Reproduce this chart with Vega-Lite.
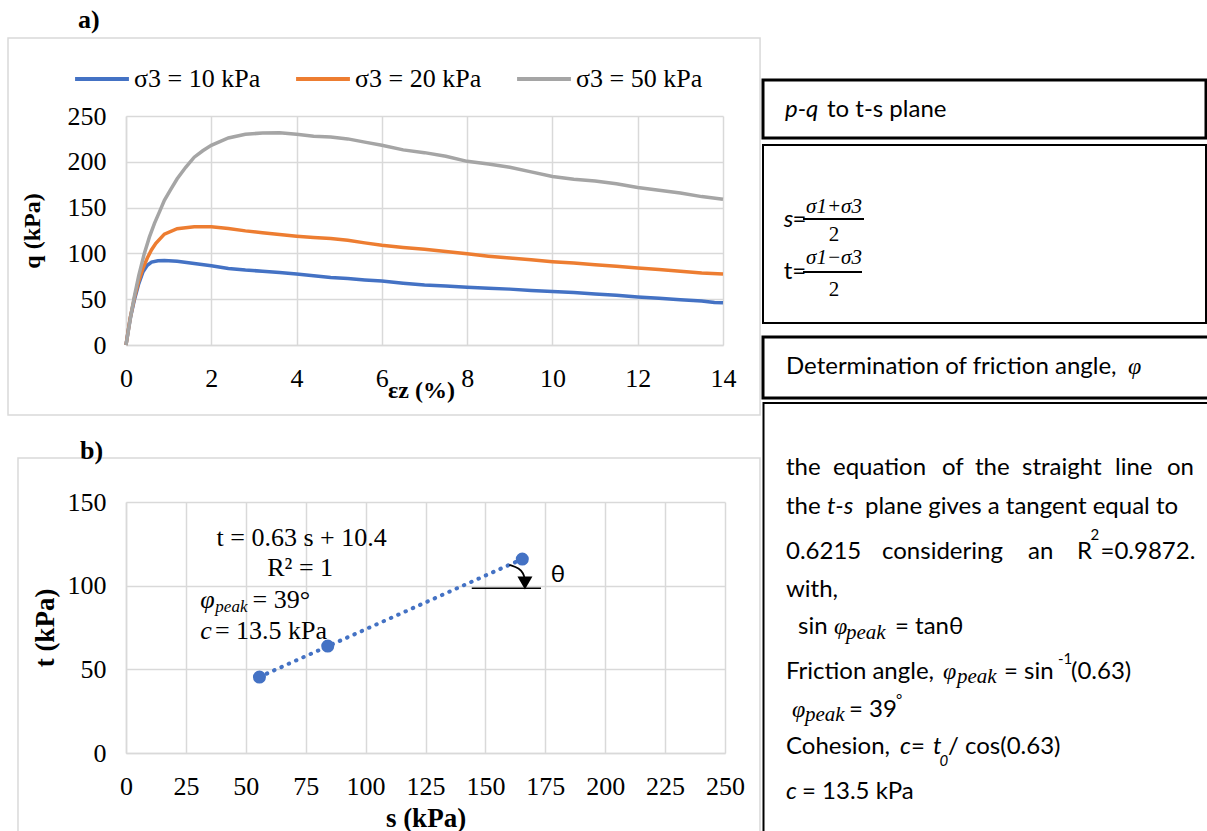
{
"$schema": "https://vega.github.io/schema/vega-lite/v6.json",
"padding": {"left": 7, "top": 7, "right": 0, "bottom": 0},
"config": {
  "view": {"stroke": null},
  "axis": {"gridColor": "#d9d9d9", "gridWidth": 1.5, "domainColor": "#d9d9d9", "domainWidth": 1.5, "ticks": false, "labelFont": "Liberation Serif", "labelFontSize": 26, "labelColor": "#000000", "labelPadding": 20, "labelFlush": false, "labelOverlap": false, "titleFont": "Liberation Serif", "titleFontWeight": "bold", "titleColor": "#000000"}
},
"resolve": {"scale": {"color": "independent"}, "legend": {"color": "independent"}},
"spacing": 0,
"hconcat": [
  {
    "spacing": 157,
    "bounds": "flush",
    "resolve": {"scale": {"color": "independent"}, "legend": {"color": "independent"}},
    "vconcat": [
      {
        "width": 597, "height": 229,
        "encoding": {
          "x": {"field": "e", "type": "quantitative", "scale": {"domain": [0, 14], "nice": false, "zero": false},
                "axis": {"values": [0,2,4,6,8,10,12,14], "title": "εz (%)", "titleFontSize": 24, "titleX": 295, "titleY": 45, "titleBaseline": "middle", "titleAlign": "center"}},
          "y": {"field": "q", "type": "quantitative", "scale": {"domain": [0, 250], "nice": false},
                "axis": {"values": [0,50,100,150,200,250], "title": "q (kPa)", "titleFontSize": 24, "titleX": -94, "titleY": 114.5, "titleAngle": -90, "titleBaseline": "middle", "titleAlign": "center"}}
        },
        "layer": [
          {"data": {"name": "aBorder"}, "mark": {"type": "rect", "fillOpacity": 0, "stroke": "#d9d9d9", "strokeWidth": 1.5},
           "encoding": {"x2": {"field": "e2"}, "y2": {"field": "q2"}}},
          {"data": {"name": "curves"}, "mark": {"type": "line", "strokeWidth": 3.5},
           "encoding": {"color": {"field": "series", "type": "nominal",
              "scale": {"domain": ["σ3 = 10 kPa", "σ3 = 20 kPa", "σ3 = 50 kPa"], "range": ["#4472C4", "#ED7D31", "#A5A5A5"]},
              "legend": {"orient": "none", "legendX": -53, "legendY": -66, "direction": "horizontal", "title": null, "symbolType": "stroke", "symbolSize": 2900, "symbolStrokeWidth": 4, "labelFont": "Liberation Serif", "labelFontSize": 26, "labelColor": "#000000", "labelOffset": 3, "columnPadding": 27, "padding": 0, "labelLimit": 0}}}},
          {"data": {"name": "aText"}, "mark": {"type": "text", "font": "Liberation Serif", "fontSize": 26, "fontWeight": "bold", "align": "left", "baseline": "middle", "color": "#000000"},
           "encoding": {"text": {"field": "text"}}}
        ]
      },
      {
        "width": 599, "height": 251,
        "encoding": {
          "x": {"field": "s", "type": "quantitative", "scale": {"domain": [0, 250], "nice": false, "zero": false},
                "axis": {"values": [0,25,50,75,100,125,150,175,200,225,250], "title": "s (kPa)", "titleFontSize": 27, "titleX": 299.5, "titleY": 65, "titleBaseline": "middle", "titleAlign": "center"}},
          "y": {"field": "t", "type": "quantitative", "scale": {"domain": [0, 150], "nice": false},
                "axis": {"values": [0,50,100,150], "title": "t (kPa)", "titleFontSize": 27, "titleX": -81, "titleY": 125.5, "titleAngle": -90, "titleBaseline": "middle", "titleAlign": "center"}}
        },
        "layer": [
          {"data": {"name": "bBorder"}, "mark": {"type": "rect", "fillOpacity": 0, "stroke": "#d9d9d9", "strokeWidth": 1.5},
           "encoding": {"x2": {"field": "s2"}, "y2": {"field": "t2"}}},
          {"data": {"name": "pts"}, "transform": [{"regression": "t", "on": "s"}],
           "mark": {"type": "line", "color": "#4472C4", "strokeWidth": 4, "strokeDash": [0.5, 7.5], "strokeCap": "round"}},
          {"data": {"name": "pts"}, "mark": {"type": "circle", "color": "#4472C4", "size": 170, "opacity": 1}},
          {"data": {"name": "hline"}, "mark": {"type": "line", "color": "#000000", "strokeWidth": 1.5}},
          {"data": {"name": "arc"}, "mark": {"type": "line", "color": "#000000", "strokeWidth": 1.8, "interpolate": "basis"},
           "encoding": {"order": {"field": "o", "type": "quantitative"}}},
          {"data": {"name": "tri"}, "mark": {"type": "point", "shape": "triangle-down", "filled": true, "color": "#000000", "size": 225, "opacity": 1}},
          {"data": {"name": "bText"}, "transform": [{"filter": "datum.kind === 'c'"}],
           "mark": {"type": "text", "font": "Liberation Serif", "fontSize": 26, "align": "center", "baseline": "middle", "color": "#000000"},
           "encoding": {"text": {"field": "text"}}},
          {"data": {"name": "bText"}, "transform": [{"filter": "datum.kind === 'l'"}],
           "mark": {"type": "text", "font": "Liberation Serif", "fontSize": 26, "align": "left", "baseline": "middle", "color": "#000000"},
           "encoding": {"text": {"field": "text"}}},
          {"data": {"name": "bText"}, "transform": [{"filter": "datum.kind === 'i'"}],
           "mark": {"type": "text", "font": "Liberation Serif", "fontSize": 26, "fontStyle": "italic", "align": "left", "baseline": "middle", "color": "#000000"},
           "encoding": {"text": {"field": "text"}}},
          {"data": {"name": "bText"}, "transform": [{"filter": "datum.kind === 'sub'"}],
           "mark": {"type": "text", "font": "Liberation Serif", "fontSize": 17, "fontStyle": "italic", "align": "left", "baseline": "middle", "color": "#000000"},
           "encoding": {"text": {"field": "text"}}},
          {"data": {"name": "bText"}, "transform": [{"filter": "datum.kind === 'b'"}],
           "mark": {"type": "text", "font": "Liberation Serif", "fontSize": 26, "fontWeight": "bold", "align": "left", "baseline": "middle", "color": "#000000"},
           "encoding": {"text": {"field": "text"}}},
          {"data": {"name": "bText"}, "transform": [{"filter": "datum.kind === 'theta'"}],
           "mark": {"type": "text", "font": "Lato", "fontSize": 24, "align": "left", "baseline": "middle", "color": "#000000"},
           "encoding": {"text": {"field": "text"}}}
        ]
      }
    ]
  },
  {
    "width": 445, "height": 715,
    "encoding": {
      "x": {"field": "x", "type": "quantitative", "scale": {"domain": [0, 44.5], "nice": false, "zero": false}, "axis": null},
      "y": {"field": "y", "type": "quantitative", "scale": {"domain": [11.6, 83.1], "nice": false, "zero": false, "reverse": true}, "axis": null}
    },
    "layer": [
      {"data": {"name": "boxes"}, "transform": [{"filter": "datum.kind === 'thick'"}],
       "mark": {"type": "rect", "fillOpacity": 0, "stroke": "#000000", "strokeWidth": 3},
       "encoding": {"x2": {"field": "x2"}, "y2": {"field": "y2"}}},
      {"data": {"name": "boxes"}, "transform": [{"filter": "datum.kind === 'thin'"}],
       "mark": {"type": "rect", "fillOpacity": 0, "stroke": "#000000", "strokeWidth": 2},
       "encoding": {"x2": {"field": "x2"}, "y2": {"field": "y2"}}},
      {"data": {"name": "bars"}, "mark": {"type": "rule", "color": "#000000", "strokeWidth": 1.8},
       "encoding": {"x2": {"field": "x2"}}},
      {"data": {"name": "ptext"}, "transform": [{"filter": "datum.kind === 'reg'"}],
       "mark": {"type": "text", "font": "Lato", "fontSize": 24, "align": "left", "baseline": "middle", "color": "#000000"},
       "encoding": {"text": {"field": "text"}}},
      {"data": {"name": "ptext"}, "transform": [{"filter": "datum.kind === 'ital'"}],
       "mark": {"type": "text", "font": "Lato", "fontSize": 24, "fontStyle": "italic", "align": "left", "baseline": "middle", "color": "#000000"},
       "encoding": {"text": {"field": "text"}}},
      {"data": {"name": "ptext"}, "transform": [{"filter": "datum.kind === 'phi'"}],
       "mark": {"type": "text", "font": "Liberation Serif", "fontSize": 24, "fontStyle": "italic", "align": "left", "baseline": "middle", "color": "#000000"},
       "encoding": {"text": {"field": "text"}}},
      {"data": {"name": "ptext"}, "transform": [{"filter": "datum.kind === 'peak'"}],
       "mark": {"type": "text", "font": "Liberation Serif", "fontSize": 21, "fontStyle": "italic", "align": "left", "baseline": "middle", "color": "#000000"},
       "encoding": {"text": {"field": "text"}}},
      {"data": {"name": "ptext"}, "transform": [{"filter": "datum.kind === 'sup'"}],
       "mark": {"type": "text", "font": "Lato", "fontSize": 15, "align": "left", "baseline": "middle", "color": "#000000"},
       "encoding": {"text": {"field": "text"}}},
      {"data": {"name": "ptext"}, "transform": [{"filter": "datum.kind === 'supi'"}],
       "mark": {"type": "text", "font": "Lato", "fontSize": 15, "fontStyle": "italic", "align": "left", "baseline": "middle", "color": "#000000"},
       "encoding": {"text": {"field": "text"}}},
      {"data": {"name": "ptext"}, "transform": [{"filter": "datum.kind === 'num'"}],
       "mark": {"type": "text", "font": "Liberation Serif", "fontSize": 21, "fontStyle": "italic", "align": "center", "baseline": "middle", "color": "#000000"},
       "encoding": {"text": {"field": "text"}}},
      {"data": {"name": "ptext"}, "transform": [{"filter": "datum.kind === 'den'"}],
       "mark": {"type": "text", "font": "Liberation Serif", "fontSize": 21, "align": "center", "baseline": "middle", "color": "#000000"},
       "encoding": {"text": {"field": "text"}}}
    ]
  }
],
"datasets": {
  "aBorder": [{"e": -2.767, "e2": 14.869, "q": -76.4, "q2": 335.2}],
  "aText": [{"e": -1.126, "q": 354.8, "text": "a)"}],
  "curves": [
    {"e":0,"q":0,"series":"σ3 = 10 kPa"},{"e":0.05,"q":15,"series":"σ3 = 10 kPa"},{"e":0.1,"q":29,"series":"σ3 = 10 kPa"},{"e":0.2,"q":50,"series":"σ3 = 10 kPa"},{"e":0.3,"q":67,"series":"σ3 = 10 kPa"},{"e":0.4,"q":80,"series":"σ3 = 10 kPa"},{"e":0.5,"q":87,"series":"σ3 = 10 kPa"},{"e":0.6,"q":90.5,"series":"σ3 = 10 kPa"},{"e":0.75,"q":92,"series":"σ3 = 10 kPa"},{"e":0.9,"q":92.3,"series":"σ3 = 10 kPa"},{"e":1.2,"q":91.5,"series":"σ3 = 10 kPa"},{"e":1.6,"q":89,"series":"σ3 = 10 kPa"},{"e":2.0,"q":86.5,"series":"σ3 = 10 kPa"},{"e":2.4,"q":83.6,"series":"σ3 = 10 kPa"},{"e":2.8,"q":81.8,"series":"σ3 = 10 kPa"},{"e":3.2,"q":80.6,"series":"σ3 = 10 kPa"},{"e":3.6,"q":79.2,"series":"σ3 = 10 kPa"},{"e":4.0,"q":77.4,"series":"σ3 = 10 kPa"},{"e":4.4,"q":75.6,"series":"σ3 = 10 kPa"},{"e":4.8,"q":73.8,"series":"σ3 = 10 kPa"},{"e":5.2,"q":72.6,"series":"σ3 = 10 kPa"},{"e":5.6,"q":71,"series":"σ3 = 10 kPa"},{"e":6.0,"q":69.8,"series":"σ3 = 10 kPa"},{"e":6.5,"q":67.5,"series":"σ3 = 10 kPa"},{"e":7.0,"q":65.5,"series":"σ3 = 10 kPa"},{"e":7.5,"q":64.3,"series":"σ3 = 10 kPa"},{"e":8.0,"q":63,"series":"σ3 = 10 kPa"},{"e":8.5,"q":62,"series":"σ3 = 10 kPa"},{"e":9.0,"q":61,"series":"σ3 = 10 kPa"},{"e":9.5,"q":59.5,"series":"σ3 = 10 kPa"},{"e":10.0,"q":58.5,"series":"σ3 = 10 kPa"},{"e":10.5,"q":57.3,"series":"σ3 = 10 kPa"},{"e":11.0,"q":55.7,"series":"σ3 = 10 kPa"},{"e":11.5,"q":54.2,"series":"σ3 = 10 kPa"},{"e":12.0,"q":52.5,"series":"σ3 = 10 kPa"},{"e":12.5,"q":51,"series":"σ3 = 10 kPa"},{"e":13.0,"q":49.5,"series":"σ3 = 10 kPa"},{"e":13.5,"q":48,"series":"σ3 = 10 kPa"},{"e":13.8,"q":46.5,"series":"σ3 = 10 kPa"},{"e":14.0,"q":46,"series":"σ3 = 10 kPa"},
    {"e":0,"q":0,"series":"σ3 = 20 kPa"},{"e":0.05,"q":15,"series":"σ3 = 20 kPa"},{"e":0.1,"q":30,"series":"σ3 = 20 kPa"},{"e":0.2,"q":52,"series":"σ3 = 20 kPa"},{"e":0.3,"q":70,"series":"σ3 = 20 kPa"},{"e":0.4,"q":84,"series":"σ3 = 20 kPa"},{"e":0.5,"q":95,"series":"σ3 = 20 kPa"},{"e":0.6,"q":104,"series":"σ3 = 20 kPa"},{"e":0.7,"q":111,"series":"σ3 = 20 kPa"},{"e":0.9,"q":121,"series":"σ3 = 20 kPa"},{"e":1.2,"q":127,"series":"σ3 = 20 kPa"},{"e":1.6,"q":129,"series":"σ3 = 20 kPa"},{"e":2.0,"q":129,"series":"σ3 = 20 kPa"},{"e":2.4,"q":127.2,"series":"σ3 = 20 kPa"},{"e":2.8,"q":124.6,"series":"σ3 = 20 kPa"},{"e":3.2,"q":122.5,"series":"σ3 = 20 kPa"},{"e":3.6,"q":120.6,"series":"σ3 = 20 kPa"},{"e":4.0,"q":118.8,"series":"σ3 = 20 kPa"},{"e":4.4,"q":117.4,"series":"σ3 = 20 kPa"},{"e":4.8,"q":116.2,"series":"σ3 = 20 kPa"},{"e":5.2,"q":114.3,"series":"σ3 = 20 kPa"},{"e":5.6,"q":111.5,"series":"σ3 = 20 kPa"},{"e":6.0,"q":109,"series":"σ3 = 20 kPa"},{"e":6.5,"q":106.5,"series":"σ3 = 20 kPa"},{"e":7.0,"q":104.5,"series":"σ3 = 20 kPa"},{"e":7.5,"q":102,"series":"σ3 = 20 kPa"},{"e":8.0,"q":99.5,"series":"σ3 = 20 kPa"},{"e":8.5,"q":97,"series":"σ3 = 20 kPa"},{"e":9.0,"q":95,"series":"σ3 = 20 kPa"},{"e":9.5,"q":93,"series":"σ3 = 20 kPa"},{"e":10.0,"q":91,"series":"σ3 = 20 kPa"},{"e":10.5,"q":89.5,"series":"σ3 = 20 kPa"},{"e":11.0,"q":87.5,"series":"σ3 = 20 kPa"},{"e":11.5,"q":86,"series":"σ3 = 20 kPa"},{"e":12.0,"q":84,"series":"σ3 = 20 kPa"},{"e":12.5,"q":82.5,"series":"σ3 = 20 kPa"},{"e":13.0,"q":80.5,"series":"σ3 = 20 kPa"},{"e":13.5,"q":78.5,"series":"σ3 = 20 kPa"},{"e":14.0,"q":77.5,"series":"σ3 = 20 kPa"},
    {"e":0,"q":0,"series":"σ3 = 50 kPa"},{"e":0.05,"q":14,"series":"σ3 = 50 kPa"},{"e":0.12,"q":34,"series":"σ3 = 50 kPa"},{"e":0.2,"q":54,"series":"σ3 = 50 kPa"},{"e":0.3,"q":76,"series":"σ3 = 50 kPa"},{"e":0.43,"q":100,"series":"σ3 = 50 kPa"},{"e":0.55,"q":118,"series":"σ3 = 50 kPa"},{"e":0.67,"q":133,"series":"σ3 = 50 kPa"},{"e":0.8,"q":147,"series":"σ3 = 50 kPa"},{"e":0.9,"q":158,"series":"σ3 = 50 kPa"},{"e":1.05,"q":170,"series":"σ3 = 50 kPa"},{"e":1.2,"q":181.5,"series":"σ3 = 50 kPa"},{"e":1.4,"q":194,"series":"σ3 = 50 kPa"},{"e":1.6,"q":205,"series":"σ3 = 50 kPa"},{"e":1.8,"q":212,"series":"σ3 = 50 kPa"},{"e":2.0,"q":218,"series":"σ3 = 50 kPa"},{"e":2.4,"q":226,"series":"σ3 = 50 kPa"},{"e":2.8,"q":230,"series":"σ3 = 50 kPa"},{"e":3.2,"q":231.5,"series":"σ3 = 50 kPa"},{"e":3.6,"q":231.8,"series":"σ3 = 50 kPa"},{"e":4.0,"q":230,"series":"σ3 = 50 kPa"},{"e":4.4,"q":227.8,"series":"σ3 = 50 kPa"},{"e":4.8,"q":227,"series":"σ3 = 50 kPa"},{"e":5.2,"q":225,"series":"σ3 = 50 kPa"},{"e":5.6,"q":221.5,"series":"σ3 = 50 kPa"},{"e":6.0,"q":218,"series":"σ3 = 50 kPa"},{"e":6.5,"q":213,"series":"σ3 = 50 kPa"},{"e":7.0,"q":210,"series":"σ3 = 50 kPa"},{"e":7.5,"q":206,"series":"σ3 = 50 kPa"},{"e":8.0,"q":200.5,"series":"σ3 = 50 kPa"},{"e":8.5,"q":197.5,"series":"σ3 = 50 kPa"},{"e":9.0,"q":194,"series":"σ3 = 50 kPa"},{"e":9.5,"q":189,"series":"σ3 = 50 kPa"},{"e":10.0,"q":184,"series":"σ3 = 50 kPa"},{"e":10.5,"q":181,"series":"σ3 = 50 kPa"},{"e":11.0,"q":179,"series":"σ3 = 50 kPa"},{"e":11.5,"q":176,"series":"σ3 = 50 kPa"},{"e":12.0,"q":172,"series":"σ3 = 50 kPa"},{"e":12.5,"q":169,"series":"σ3 = 50 kPa"},{"e":13.0,"q":166,"series":"σ3 = 50 kPa"},{"e":13.5,"q":162,"series":"σ3 = 50 kPa"},{"e":14.0,"q":159,"series":"σ3 = 50 kPa"}
  ],
  "bBorder": [{"s": -45.08, "s2": 264.6, "t": 176.3, "t2": -52}],
  "pts": [{"s": 55.7, "t": 45.4}, {"s": 84.2, "t": 63.9}, {"s": 165.4, "t": 115.9}],
  "hline": [{"s": 144.3, "t": 98.4}, {"s": 173.2, "t": 98.4}],
  "arc": [{"o": 1, "s": 160.0, "t": 112.4}, {"o": 2, "s": 164.2, "t": 110.4}, {"o": 3, "s": 165.8, "t": 107.4}, {"o": 4, "s": 166.4, "t": 104.4}],
  "tri": [{"s": 166.5, "t": 101.6}],
  "bText": [
    {"s": 73.3, "t": 128.3, "text": "t = 0.63 s + 10.4", "kind": "c"},
    {"s": 72.7, "t": 110.4, "text": "R² = 1", "kind": "c"},
    {"s": 31.0, "t": 91.4, "text": "φ", "kind": "i"},
    {"s": 37.3, "t": 87.4, "text": "peak", "kind": "sub"},
    {"s": 52.8, "t": 91.4, "text": "= 39°", "kind": "l"},
    {"s": 31.0, "t": 73.1, "text": "c", "kind": "i"},
    {"s": 37.1, "t": 73.1, "text": "= 13.5 kPa", "kind": "l"},
    {"s": -19.2, "t": 180.5, "text": "b)", "kind": "b"},
    {"s": 177.3, "t": 106.4, "text": "θ", "kind": "theta"}
  ],
  "boxes": [
    {"x": 0.1, "x2": 44.4, "y": 8.0, "y2": 13.8, "kind": "thick"},
    {"x": 0.1, "x2": 44.4, "y": 14.5, "y2": 32.3, "kind": "thin"},
    {"x": 0.1, "x2": 45.5, "y": 33.7, "y2": 39.8, "kind": "thick"},
    {"x": 0.15, "x2": 45.5, "y": 40.3, "y2": 84.5, "kind": "thin"}
  ],
  "bars": [
    {"x": 4.1, "x2": 10.2, "y": 21.9},
    {"x": 4.1, "x2": 10.0, "y": 27.2}
  ],
  "ptext": [
    {"x": 2.3, "y": 11.0, "text": "p-q", "kind": "ital"},
    {"x": 6.5, "y": 11.0, "text": "to t-s plane", "kind": "reg"},
    {"x": 2.17, "y": 22.0, "text": "s", "kind": "ital"},
    {"x": 3.05, "y": 22.0, "text": "=", "kind": "reg"},
    {"x": 2.17, "y": 27.2, "text": "t=", "kind": "reg"},
    {"x": 7.2, "y": 20.67, "text": "σ1+σ3", "kind": "num"},
    {"x": 7.2, "y": 23.5, "text": "2", "kind": "den"},
    {"x": 7.2, "y": 25.83, "text": "σ1−σ3", "kind": "num"},
    {"x": 7.2, "y": 29.0, "text": "2", "kind": "den"},
    {"x": 2.4, "y": 36.7, "text": "Determination of friction angle,", "kind": "reg"},
    {"x": 36.6, "y": 36.7, "text": "φ", "kind": "phi"},
    {"x": 2.4, "y": 46.8, "text": "the", "kind": "reg"},
    {"x": 7.1, "y": 46.8, "text": "equation", "kind": "reg"},
    {"x": 18.0, "y": 46.8, "text": "of", "kind": "reg"},
    {"x": 21.3, "y": 46.8, "text": "the", "kind": "reg"},
    {"x": 26.0, "y": 46.8, "text": "straight", "kind": "reg"},
    {"x": 35.3, "y": 46.8, "text": "line", "kind": "reg"},
    {"x": 40.5, "y": 46.8, "text": "on", "kind": "reg"},
    {"x": 2.4, "y": 50.7, "text": "the", "kind": "reg"},
    {"x": 6.5, "y": 50.7, "text": "t-s", "kind": "ital"},
    {"x": 10.3, "y": 50.7, "text": "plane gives a tangent equal to", "kind": "reg"},
    {"x": 2.4, "y": 55.2, "text": "0.6215", "kind": "reg"},
    {"x": 12.0, "y": 55.2, "text": "considering", "kind": "reg"},
    {"x": 26.6, "y": 55.2, "text": "an", "kind": "reg"},
    {"x": 31.5, "y": 55.2, "text": "R", "kind": "reg"},
    {"x": 32.85, "y": 53.5, "text": "2", "kind": "sup"},
    {"x": 33.85, "y": 55.2, "text": "=0.9872.", "kind": "reg"},
    {"x": 2.4, "y": 59.0, "text": "with,", "kind": "reg"},
    {"x": 3.6, "y": 62.7, "text": "sin", "kind": "reg"},
    {"x": 7.2, "y": 62.7, "text": "φ", "kind": "phi"},
    {"x": 8.4, "y": 63.3, "text": "peak", "kind": "peak"},
    {"x": 13.3, "y": 62.7, "text": "= tanθ", "kind": "reg"},
    {"x": 2.4, "y": 67.2, "text": "Friction angle,", "kind": "reg"},
    {"x": 18.1, "y": 67.2, "text": "φ", "kind": "phi"},
    {"x": 19.5, "y": 67.7, "text": "peak", "kind": "peak"},
    {"x": 24.2, "y": 67.2, "text": "= sin", "kind": "reg"},
    {"x": 29.6, "y": 65.9, "text": "-1", "kind": "sup"},
    {"x": 30.9, "y": 67.2, "text": "(0.63)", "kind": "reg"},
    {"x": 3.0, "y": 71.0, "text": "φ", "kind": "phi"},
    {"x": 4.3, "y": 71.5, "text": "peak", "kind": "peak"},
    {"x": 8.7, "y": 71.0, "text": "= 39", "kind": "reg"},
    {"x": 13.4, "y": 70.0, "text": "°", "kind": "sup"},
    {"x": 2.4, "y": 74.7, "text": "Cohesion,", "kind": "reg"},
    {"x": 13.8, "y": 74.7, "text": "c", "kind": "ital"},
    {"x": 14.9, "y": 74.7, "text": "=", "kind": "reg"},
    {"x": 17.1, "y": 74.7, "text": "t", "kind": "ital"},
    {"x": 17.75, "y": 76.1, "text": "0", "kind": "supi"},
    {"x": 18.6, "y": 74.7, "text": "/ cos(0.63)", "kind": "reg"},
    {"x": 2.4, "y": 79.2, "text": "c", "kind": "ital"},
    {"x": 4.0, "y": 79.2, "text": "= 13.5 kPa", "kind": "reg"}
  ]
}
}
